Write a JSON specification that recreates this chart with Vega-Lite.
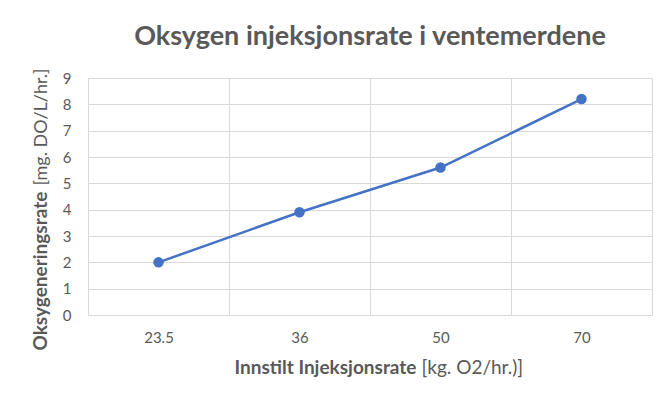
{
  "$schema": "https://vega.github.io/schema/vega-lite/v6.json",
  "width": 564,
  "height": 237,
  "autosize": {"type": "none"},
  "padding": {"left": 88, "top": 78, "right": 14, "bottom": 85},
  "background": "white",
  "config": {
    "font": "Lato",
    "view": {"stroke": null},
    "axis": {"labelColor": "#595959", "titleColor": "#595959", "labelFont": "Lato", "titleFont": "Lato", "labelFontSize": 15, "titleFontSize": 18}
  },
  "title": {"text": "Oksygen injeksjonsrate i ventemerdene", "fontSize": 27, "font": "Lato", "fontWeight": "bold", "color": "#595959", "anchor": "middle", "offset": 17},
  "data": {"values": [
    {"rate": "23.5", "oks": 2.0},
    {"rate": "36", "oks": 3.9},
    {"rate": "50", "oks": 5.6},
    {"rate": "70", "oks": 8.2}
  ]},
  "layer": [
    {
      "mark": {"type": "line", "color": "#4472C4", "strokeWidth": 2.5},
      "encoding": {
        "x": {"field": "rate", "type": "ordinal", "sort": null, "bandPosition": 0.5,
          "scale": {"type": "band", "paddingInner": 0, "paddingOuter": 0},
          "axis": {"title": "Innstilt Injeksjonsrate", "titleFontWeight": "bold", "titleFontSize": 19, "titleAlign": "left", "titleAnchor": null, "titleX": 146, "titleY": 58, "titleBaseline": "alphabetic",
            "labelAngle": 0, "labelPadding": 15, "ticks": false, "tickBand": "extent", "grid": true, "gridColor": "#D9D9D9", "domainColor": "#D9D9D9", "domain": true}},
        "y": {"field": "oks", "type": "quantitative",
          "scale": {"domain": [0, 9], "nice": false},
          "axis": {"title": "Oksygeneringsrate", "titleFontWeight": "bold", "titleFontSize": 19, "titleAngle": 270, "titleAlign": "left", "titleAnchor": null, "titleX": -42, "titleY": 272, "titleBaseline": "alphabetic",
            "values": [0,1,2,3,4,5,6,7,8,9], "ticks": false, "domain": false, "labelPadding": 17, "grid": true, "gridColor": "#D9D9D9"}}
      }
    },
    {
      "mark": {"type": "point", "filled": true, "size": 110, "color": "#4472C4", "opacity": 1},
      "encoding": {
        "x": {"field": "rate", "type": "ordinal", "sort": null, "bandPosition": 0.5,
          "scale": {"type": "band", "paddingInner": 0, "paddingOuter": 0},
          "axis": {"orient": "bottom", "title": "[kg. O2/hr.)]", "titleFontWeight": "normal", "titleFontSize": 19, "titleAlign": "left", "titleAnchor": null, "titleX": 333, "titleY": 58, "titleBaseline": "alphabetic",
            "labels": false, "ticks": false, "grid": false, "domain": false}},
        "y": {"field": "oks", "type": "quantitative",
          "scale": {"domain": [0, 9], "nice": false},
          "axis": {"orient": "left", "title": "[mg. DO/L/hr.]", "titleFontWeight": "normal", "titleAngle": 270, "titleAlign": "left", "titleAnchor": null, "titleX": -42, "titleY": 107, "titleBaseline": "alphabetic",
            "labels": false, "ticks": false, "grid": false, "domain": false}}
      }
    }
  ],
  "resolve": {"axis": {"x": "independent", "y": "independent"}}
}
